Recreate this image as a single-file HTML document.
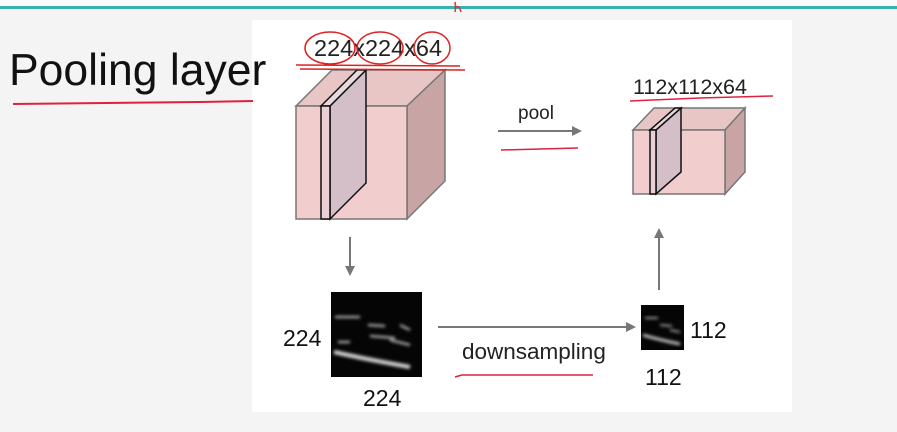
<!DOCTYPE html>
<html><head><style>
body{margin:0;width:897px;height:432px;background:#f5f5f5;overflow:hidden;font-family:"Liberation Sans",sans-serif;}
</style></head><body>
<svg width="897" height="432" viewBox="0 0 897 432" style="position:absolute;left:0;top:0">
<rect x="0" y="0" width="897" height="432" fill="#f4f4f4"/>
<rect x="0" y="0" width="897" height="6" fill="#fafafa"/>
<rect x="252" y="20" width="540" height="392" fill="#ffffff"/>
<rect x="0" y="6" width="897" height="3" fill="#38b2b0"/>
<path d="M455 2 q1 6 0 10 M455 8 q4 -4 6 4" stroke="#e03030" stroke-width="1.5" fill="none"/>
<text x="9" y="85" font-size="44.5" fill="#111">Pooling layer</text>
<path d="M13 104 L200 102 L253 101" stroke="#e02040" stroke-width="2" fill="none"/>
<!-- big cube -->
<polygon points="296,106 332,70 445,70 407,106" fill="#e9c6c6" stroke="#777" stroke-width="1.5"/>
<polygon points="407,106 445,70 445,181 407,219" fill="#c9a4a4" stroke="#777" stroke-width="1.5"/>
<rect x="296" y="106" width="111" height="113" fill="#f2cdcd" stroke="#777" stroke-width="1.5"/>
<polygon points="330,106 366,70 366,183 330,219" fill="#d4bfc8" stroke="#111" stroke-width="1.5"/>
<polygon points="321,106 357,70 366,70 330,106" fill="#e6d8dc" stroke="#111" stroke-width="1.5"/>
<rect x="321" y="106" width="9" height="113" fill="#ead0d4" stroke="#111" stroke-width="1.5"/>
<text x="314" y="56" font-size="23.5" fill="#222">224x224x64</text>
<ellipse cx="330" cy="48" rx="25" ry="16" fill="none" stroke="#e02020" stroke-width="1.5"/>
<ellipse cx="380" cy="48" rx="23" ry="16" fill="none" stroke="#e02020" stroke-width="1.5"/>
<ellipse cx="432" cy="48" rx="18" ry="16" fill="none" stroke="#e02020" stroke-width="1.5"/>
<path d="M296 65 L460 66 M300 69 L465 70" stroke="#e02020" stroke-width="1.5" fill="none"/>
<!-- small cube -->
<polygon points="633,130 654,108 745,108 725,130" fill="#e9c6c6" stroke="#777" stroke-width="1.5"/>
<polygon points="725,130 745,108 745,172 725,194" fill="#c9a4a4" stroke="#777" stroke-width="1.5"/>
<rect x="633" y="130" width="92" height="64" fill="#f2cdcd" stroke="#777" stroke-width="1.5"/>
<polygon points="656,130 681,108 681,172 656,194" fill="#d4bfc8" stroke="#111" stroke-width="1.5"/>
<polygon points="650,130 675,108 681,108 656,130" fill="#e6d8dc" stroke="#111" stroke-width="1.5"/>
<rect x="650" y="130" width="6" height="64" fill="#ead0d4" stroke="#111" stroke-width="1.5"/>
<text x="633" y="94" font-size="21.5" fill="#222">112x112x64</text>
<path d="M630 101 L700 98 L773 96" stroke="#e02040" stroke-width="1.5" fill="none"/>
<!-- pool arrow -->
<text x="518" y="119" font-size="19" fill="#222">pool</text>
<line x1="498" y1="131" x2="574" y2="131" stroke="#777" stroke-width="2"/>
<polygon points="582,131 572,126 572,136" fill="#777"/>
<path d="M501 150 L540 149 L578 148" stroke="#e02040" stroke-width="1.5" fill="none"/>
<!-- down/up arrows -->
<line x1="350" y1="237" x2="350" y2="268" stroke="#777" stroke-width="2"/>
<polygon points="350,276 345,266 355,266" fill="#777"/>
<line x1="659" y1="290" x2="659" y2="236" stroke="#777" stroke-width="2"/>
<polygon points="659,228 654,238 664,238" fill="#777"/>
<!-- images -->
<defs><filter id="b"><feGaussianBlur stdDeviation="1.5"/></filter></defs>
<rect x="331" y="292" width="91" height="85" fill="#050505"/>
<g filter="url(#b)" stroke="#ccc" fill="none" stroke-width="2">
<path d="M334 352 Q370 360 410 367" stroke="#ddd" stroke-width="4"/>
<path d="M335 317 L360 317 M368 325 L385 326 M370 336 L395 338 M390 340 L410 345 M400 325 L410 330 M338 342 L350 342"/>
</g>
<rect x="641" y="305" width="43" height="45" fill="#050505"/>
<g filter="url(#b)" stroke="#ccc" fill="none" stroke-width="1.5">
<path d="M643 335 Q660 340 680 344" stroke="#ddd" stroke-width="2.5"/>
<path d="M645 318 L658 318 M660 325 L672 326 M670 330 L680 332"/>
</g>
<text x="283" y="346" font-size="23" fill="#111">224</text>
<text x="363" y="406" font-size="23" fill="#111">224</text>
<text x="690" y="338" font-size="23" fill="#111">112</text>
<text x="645" y="385" font-size="23" fill="#111">112</text>
<line x1="438" y1="327" x2="628" y2="327" stroke="#777" stroke-width="2"/>
<polygon points="636,327 626,322 626,332" fill="#777"/>
<text x="462" y="359" font-size="22.5" fill="#222">downsampling</text>
<path d="M455 377 L462 375 L593 375" stroke="#e02040" stroke-width="1.5" fill="none"/>
</svg>
</body></html>
